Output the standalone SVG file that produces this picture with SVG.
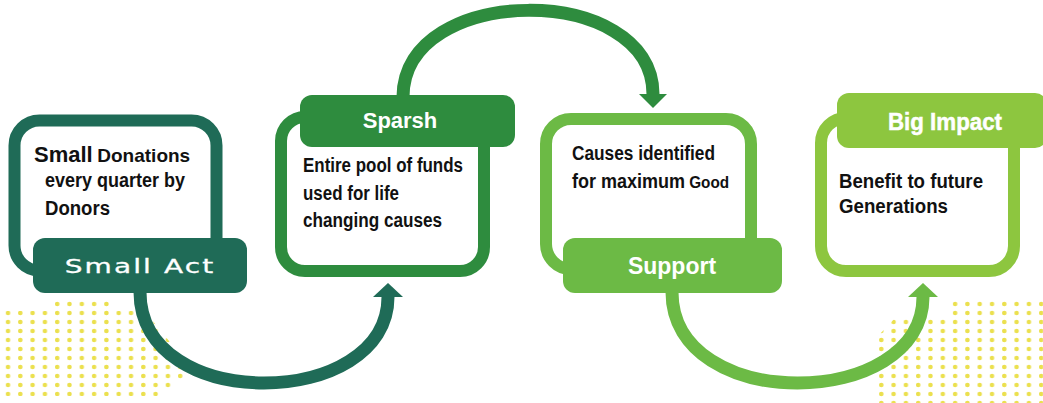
<svg xmlns="http://www.w3.org/2000/svg" width="1043" height="403" viewBox="0 0 1043 403">
<style>
.frame{fill:none;stroke-width:12}
.body{font-family:"Liberation Sans",Arial,sans-serif;font-weight:bold;fill:#111;font-size:20px}
.lbl{font-family:"Liberation Sans",Arial,sans-serif;font-weight:bold;fill:#fff;text-anchor:middle}
.conn{fill:none;stroke-width:13}
.c1{stroke:#1f6b57}.f1{fill:#1f6b57}
.c2{stroke:#2e8c3e}.f2{fill:#2e8c3e}
.c3{stroke:#6cba45}.f3{fill:#6cba45}
.c4{stroke:#8dc63f}.f4{fill:#8dc63f}
</style>
<defs>
<pattern id="dots" patternUnits="userSpaceOnUse" x="2" y="3" width="12.3" height="9">
<circle cx="6" cy="4" r="2.3" fill="#ebe04e"/>
</pattern>
<marker id="m1" markerUnits="userSpaceOnUse" markerWidth="16" markerHeight="32" refX="0" refY="16" orient="auto" viewBox="0 0 16 32"><path d="M0,1 L14,16 L0,31 z" fill="#1f6b57"/></marker>
<marker id="m2" markerUnits="userSpaceOnUse" markerWidth="16" markerHeight="32" refX="0" refY="16" orient="auto" viewBox="0 0 16 32"><path d="M0,2 L14,16 L0,30 z" fill="#2e8c3e"/></marker>
<marker id="m3" markerUnits="userSpaceOnUse" markerWidth="16" markerHeight="32" refX="0" refY="16" orient="auto" viewBox="0 0 16 32"><path d="M0,1 L14,16 L0,31 z" fill="#6cba45"/></marker>
</defs>
<rect width="1043" height="403" fill="#fff"/>
<g id="dots-left"><polygon points="52,301 112,301 112,311 140,311 152,320 186,362 186,376 160,396 5,396 5,311 52,311" fill="url(#dots)"/></g>
<g id="dots-right"><polygon points="950,300 1043,300 1043,403 878,403 878,336 895,318 950,318" fill="url(#dots)"/></g>
<g id="connectors">
<path class="conn c1" d="M140,292 C140,415 388,410 388,297" marker-end="url(#m1)"/>
<path class="conn c2" d="M403,97 C403,-18 653,-18 653,94" marker-end="url(#m2)"/>
<path class="conn c3" d="M672,292 C672,415 923,410 923,297" marker-end="url(#m3)"/>
</g>
<g id="node-small-act">
<rect class="frame c1" x="14.5" y="120.5" width="202" height="150" rx="25" stroke-width="11"/>
<rect class="f1" x="33" y="238" width="214" height="55" rx="12"/>
<text transform="translate(140,273) scale(1.4,1)" x="0" y="0" font-family="'DejaVu Sans',sans-serif" font-size="20" fill="#fff" stroke="#fff" stroke-width="0.3" text-anchor="middle" letter-spacing="1.5">Small Act</text>
<text class="body" y="162"><tspan x="34" font-size="22">Small</tspan><tspan x="92" font-size="19"> Donations</tspan></text>
<text class="body" x="45" y="187" font-size="19" textLength="140" lengthAdjust="spacingAndGlyphs">every quarter by</text>
<text class="body" x="45" y="215" font-size="19" textLength="65" lengthAdjust="spacingAndGlyphs">Donors</text>
</g>
<g id="node-sparsh">
<rect class="frame c2" x="281" y="117" width="203" height="154" rx="24"/>
<rect class="f2" x="300" y="95" width="215" height="52" rx="12"/>
<text class="lbl" x="400" y="128" font-size="22">Sparsh</text>
<text class="body" x="303" y="172" textLength="160" lengthAdjust="spacingAndGlyphs">Entire pool of funds</text>
<text class="body" x="303" y="200" textLength="96" lengthAdjust="spacingAndGlyphs">used for life</text>
<text class="body" x="303" y="227" textLength="139" lengthAdjust="spacingAndGlyphs">changing causes</text>
</g>
<g id="node-support">
<rect class="frame c3" x="546" y="119" width="205" height="150" rx="25"/>
<rect class="f3" x="563" y="238" width="219" height="55" rx="12"/>
<text class="lbl" x="672" y="274" font-size="23">Support</text>
<text class="body" x="572" y="160" textLength="143" lengthAdjust="spacingAndGlyphs">Causes identified</text>
<text class="body" transform="translate(572,188) scale(0.9,1)" x="0" y="0">for maximum<tspan font-size="17"> Good</tspan></text>
</g>
<g id="node-big-impact">
<rect class="frame c4" x="821" y="118" width="193" height="153" rx="25"/>
<rect class="f4" x="837" y="93" width="210" height="55" rx="12"/>
<text class="lbl" x="945" y="130" font-size="24" font-weight="normal" stroke="#fff" stroke-width="0.5" textLength="114" lengthAdjust="spacingAndGlyphs">Big Impact</text>
<text class="body" x="839" y="188" font-size="19" textLength="144" lengthAdjust="spacingAndGlyphs">Benefit to future</text>
<text class="body" x="839" y="213" font-size="19" textLength="109" lengthAdjust="spacingAndGlyphs">Generations</text>
</g>
</svg>
